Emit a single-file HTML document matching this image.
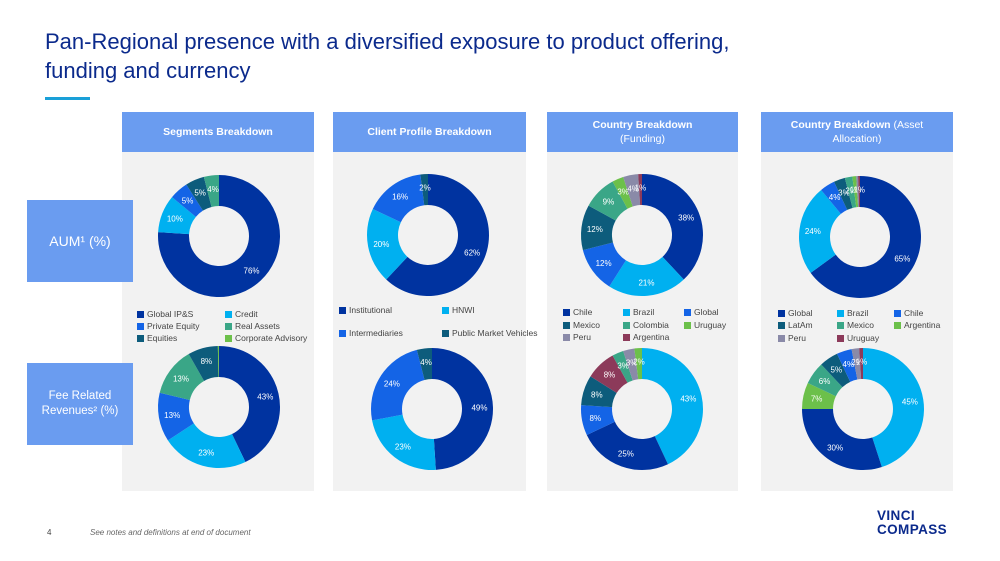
<!DOCTYPE html>
<html><head><meta charset="utf-8">
<style>
body{margin:0;width:1000px;height:561px;background:#fff;position:relative;overflow:hidden;font-family:"Liberation Sans",sans-serif}
.abs{position:absolute}
.title{left:45px;top:27px;font-size:22px;line-height:29px;color:#0b2a8c}
.hdr{background:#6a9cf0;color:#fff;font-weight:bold;font-size:10.5px;text-align:center;display:flex;align-items:center;justify-content:center;line-height:14px;top:112px;height:40px}
.panel{background:#f2f2f2;top:152px;height:339px}
.side{background:#6a9cf0;color:#fff;left:27px;width:106px;display:flex;align-items:center;justify-content:center;text-align:center}
.leg{font-size:8.5px;color:#444;white-space:nowrap;display:flex;align-items:center}
.leg i{display:inline-block;width:7px;height:7px;margin-right:3px}
</style></head><body>
<div class="abs title">Pan-Regional presence with a diversified exposure to product offering,<br>funding and currency</div>
<div class="abs" style="left:45px;top:97px;width:45px;height:3px;background:#1aa0d8"></div>

<div class="abs panel" style="left:122px;width:192px"></div>
<div class="abs panel" style="left:333px;width:193px"></div>
<div class="abs panel" style="left:547px;width:191px"></div>
<div class="abs panel" style="left:761px;width:192px"></div>

<div class="abs hdr" style="left:122px;width:192px">Segments Breakdown</div>
<div class="abs hdr" style="left:333px;width:193px">Client Profile Breakdown</div>
<div class="abs hdr" style="left:547px;width:191px"><span>Country Breakdown<br><span style="font-weight:normal">(Funding)</span></span></div>
<div class="abs hdr" style="left:761px;width:192px"><span>Country Breakdown <span style="font-weight:normal">(Asset<br>Allocation)</span></span></div>

<div class="abs side" style="top:200px;height:82px;font-size:14px">AUM¹ (%)</div>
<div class="abs side" style="top:363px;height:82px;font-size:11.5px;line-height:15px">Fee Related<br>Revenues² (%)</div>

<svg class="abs" style="left:0;top:0" width="1000" height="561" id="svg"></svg>
<div id="legends"></div>

<div class="abs" style="left:47px;top:528px;font-size:8px;color:#444">4</div>
<div class="abs" style="left:90px;top:528px;font-size:8px;color:#666;font-style:italic">See notes and definitions at end of document</div>
<div class="abs" style="left:877px;top:509px;font-size:13.5px;line-height:14px;font-weight:bold;color:#0b2a8c;letter-spacing:0.4px">VINCI<br>COMPASS</div>

<script>
const C={navy:'#0033a0',light:'#00b0f0',blue:'#1464e6',dteal:'#0d5c7c',tgreen:'#3aa687',green:'#6cc04a',gray:'#8a8aa8',maroon:'#8c3a5a'};
// Segments
const segTopValues=[76,10,5,5,4];
const segTopColors=['navy','light','blue','dteal','tgreen'];
const segBotValues=[43,23,13,13,8,0.3];
const segBotColors=['navy','light','blue','tgreen','dteal','green'];
// Client profile
const cliTopValues=[62,20,16,2];
const cliTopColors=['navy','light','blue','dteal'];
const cliBotValues=[49,23,24,4];
const cliBotColors=['navy','light','blue','dteal'];
// Country funding
const funTopValues=[38,21,12,12,9,3,4,1];
const funTopColors=['navy','light','blue','dteal','tgreen','green','gray','maroon'];
const funBotValues=[43,25,8,8,8,3,3,2];
const funBotColors=['light','navy','blue','dteal','maroon','tgreen','gray','green'];
// Country allocation
const allTopValues=[65,24,4,3,2,1,0.5,0.5];
const allTopLabels=['65%','24%','4%','3%','2%','1%','','1%'];
const allTopColors=['navy','light','blue','dteal','tgreen','green','gray','maroon'];
const allBotValues=[45,30,7,6,5,4,2,1];
const allBotColors=['light','navy','green','tgreen','dteal','blue','gray','maroon'];

const svg=document.getElementById('svg');
const NS='http://www.w3.org/2000/svg';
function donut(name,cx,cy,vals,cols,labels){
  const R=61,r=30,tot=vals.reduce((a,b)=>a+b,0);
  let a0=-Math.PI/2;
  vals.forEach((v,i)=>{
    const a1=a0+v/tot*2*Math.PI;
    const big=(a1-a0)>Math.PI?1:0;
    const p=(rad,a)=>[cx+rad*Math.cos(a),cy+rad*Math.sin(a)];
    const [x1,y1]=p(R,a0),[x2,y2]=p(R,a1),[x3,y3]=p(r,a1),[x4,y4]=p(r,a0);
    const path=document.createElementNS(NS,'path');
    path.setAttribute('d',`M${x1},${y1}A${R},${R} 0 ${big} 1 ${x2},${y2}L${x3},${y3}A${r},${r} 0 ${big} 0 ${x4},${y4}Z`);
    path.setAttribute('fill',C[cols[i]]);
    
    
    svg.appendChild(path);
    const lab=labels?labels[i]:(v>=1?Math.round(v)+'%':'');
    if(lab){
      const am=(a0+a1)/2,[tx,ty]=p((R+r)/2+2,am);
      const t=document.createElementNS(NS,'text');
      t.setAttribute('x',tx);t.setAttribute('y',ty+3);
      t.setAttribute('text-anchor','middle');
      t.setAttribute('font-size','8');t.setAttribute('fill','#fff');
      t.setAttribute('font-family','Liberation Sans, sans-serif');
      t.textContent=lab;
      
      
      svg.appendChild(t);
    }
    a0=a1;
  });
}
donut('segments-aum',219,236,segTopValues,segTopColors);
donut('segments-frr',219,407,segBotValues,segBotColors);
donut('client-aum',428,235,cliTopValues,cliTopColors);
donut('client-frr',432,409,cliBotValues,cliBotColors);
donut('funding-aum',642,235,funTopValues,funTopColors);
donut('funding-frr',642,409,funBotValues,funBotColors);
donut('allocation-aum',860,237,allTopValues,allTopColors,allTopLabels);
donut('allocation-frr',863,409,allBotValues,allBotColors);

const legends=[
 [[137,309,'navy','Global IP&S'],[225,309,'light','Credit'],[137,321,'blue','Private Equity'],[225,321,'tgreen','Real Assets'],[137,333,'dteal','Equities'],[225,333,'green','Corporate Advisory']],
 [[339,305,'navy','Institutional'],[442,305,'light','HNWI'],[339,328,'blue','Intermediaries'],[442,328,'dteal','Public Market Vehicles']],
 [[563,307,'navy','Chile'],[623,307,'light','Brazil'],[684,307,'blue','Global'],[563,320,'dteal','Mexico'],[623,320,'tgreen','Colombia'],[684,320,'green','Uruguay'],[563,332,'gray','Peru'],[623,332,'maroon','Argentina']],
 [[778,308,'navy','Global'],[837,308,'light','Brazil'],[894,308,'blue','Chile'],[778,320,'dteal','LatAm'],[837,320,'tgreen','Mexico'],[894,320,'green','Argentina'],[778,333,'gray','Peru'],[837,333,'maroon','Uruguay']]
];
const lg=document.getElementById('legends');
legends.forEach(set=>set.forEach(([x,y,c,t])=>{
  const d=document.createElement('div');
  d.className='abs leg';d.style.left=x+'px';d.style.top=y+'px';
  d.innerHTML='<i style="background:'+C[c]+'"></i>';
  d.appendChild(document.createTextNode(t));
  
  
  lg.appendChild(d);
}));
</script>
</body></html>
